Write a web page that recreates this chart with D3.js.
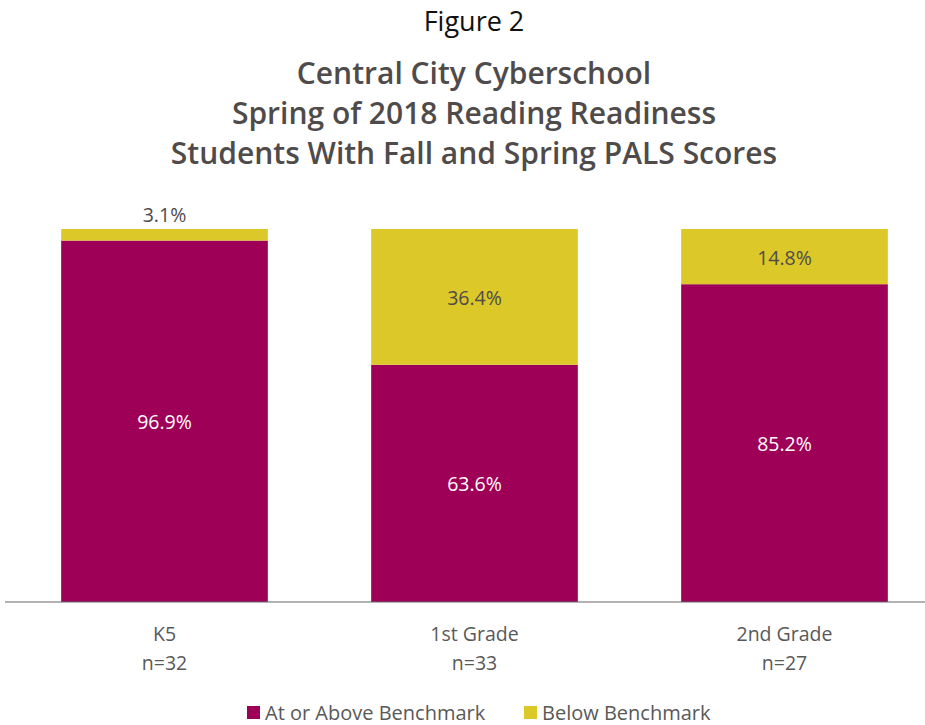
<!DOCTYPE html>
<html>
<head>
<meta charset="utf-8">
<script src="https://cdn.jsdelivr.net/npm/d3@7"></script>
<style>
  body { margin: 0; background: #fff; }
  text { font-family: "Open Sans", "Noto Sans", sans-serif; }
</style>
</head>
<body>
<div id="chart"></div>
<script>
var grades = ["K5", "1st Grade", "2nd Grade"];
var counts = ["n=32", "n=33", "n=27"];
var atOrAbove = [96.9, 63.6, 85.2];
var below = [3.1, 36.4, 14.8];
var seriesNames = ["At or Above Benchmark", "Below Benchmark"];
var seriesColors = ["#9e0058", "#dcc828"];

var width = 925, height = 725;

var svg = d3.select("#chart")
    .append("svg")
    .attr("width", width)
    .attr("height", height);

// headings
svg.append("text")
    .attr("x", 474).attr("y", 31)
    .attr("text-anchor", "middle")
    .style("font-size", "27px")
    .style("fill", "#111")
    .text("Figure 2");

var titleLines = ["Central City Cyberschool", "Spring of 2018 Reading Readiness", "Students With Fall and Spring PALS Scores"];
svg.selectAll(".title")
    .data(titleLines).enter()
    .append("text")
    .attr("class", "title")
    .attr("x", 474)
    .attr("y", function(d, i) { return 84 + i * 40; })
    .attr("text-anchor", "middle")
    .style("font-size", "30px")
    .style("font-weight", "600")
    .style("fill", "#4f4b4b")
    .text(function(d) { return d; });

var x = d3.scaleBand()
    .domain(grades)
    .range([9.5, 939.5])
    .paddingInner(1 / 3)
    .paddingOuter(1 / 6);

var y = d3.scaleLinear()
    .domain([0, 100])
    .range([602, 229]);

var rows = grades.map(function(g, i) {
    return { grade: g, a: atOrAbove[i], b: below[i] };
});

// bottom segment
svg.selectAll(".barA")
    .data(rows).enter()
    .append("rect")
    .attr("x", function(d) { return x(d.grade); })
    .attr("width", x.bandwidth())
    .attr("y", function(d) { return y(d.a); })
    .attr("height", function(d) { return y(0) - y(d.a); })
    .style("fill", seriesColors[0]);

// top segment
svg.selectAll(".barB")
    .data(rows).enter()
    .append("rect")
    .attr("x", function(d) { return x(d.grade); })
    .attr("width", x.bandwidth())
    .attr("y", function(d) { return y(d.a + d.b); })
    .attr("height", function(d) { return y(d.a) - y(d.a + d.b); })
    .style("fill", seriesColors[1]);

// value labels
svg.selectAll(".labA")
    .data(rows).enter()
    .append("text")
    .attr("x", function(d) { return x(d.grade) + x.bandwidth() / 2; })
    .attr("y", function(d) { return (y(0) + y(d.a)) / 2 + 8; })
    .attr("text-anchor", "middle")
    .style("font-size", "19.5px")
    .style("fill", "#fff")
    .text(function(d) { return d.a.toFixed(1) + "%"; });

svg.selectAll(".labB")
    .data(rows).enter()
    .append("text")
    .attr("x", function(d) { return x(d.grade) + x.bandwidth() / 2; })
    .attr("y", function(d) {
        var h = y(d.a) - y(d.a + d.b);
        if (h < 25) return y(d.a + d.b) - 7;
        return (y(d.a) + y(d.a + d.b)) / 2 + 8;
    })
    .attr("text-anchor", "middle")
    .style("font-size", "19.5px")
    .style("fill", "#4f4b4b")
    .text(function(d) { return d.b.toFixed(1) + "%"; });

// axis line
svg.append("line")
    .attr("x1", 5).attr("x2", 925)
    .attr("y1", y(0)).attr("y2", y(0))
    .style("stroke", "#666")
    .style("stroke-width", 1.2);

// category labels
var cat = svg.selectAll(".cat")
    .data(grades).enter()
    .append("text")
    .attr("text-anchor", "middle")
    .style("font-size", "19.5px")
    .style("fill", "#595959");
cat.append("tspan")
    .attr("x", function(d) { return x(d) + x.bandwidth() / 2; })
    .attr("y", 641)
    .text(function(d) { return d; });
cat.append("tspan")
    .attr("x", function(d) { return x(d) + x.bandwidth() / 2; })
    .attr("y", 670)
    .text(function(d, i) { return counts[i]; });

// legend
var legendX = [247, 524];
var leg = svg.selectAll(".leg")
    .data(seriesNames).enter()
    .append("g")
    .attr("transform", function(d, i) { return "translate(" + legendX[i] + ",706)"; });
leg.append("rect")
    .attr("width", 13).attr("height", 13)
    .style("fill", function(d, i) { return seriesColors[i]; });
leg.append("text")
    .attr("x", 18).attr("y", 14)
    .style("font-size", "20px")
    .style("fill", "#595959")
    .text(function(d) { return d; });
</script>
</body>
</html>
